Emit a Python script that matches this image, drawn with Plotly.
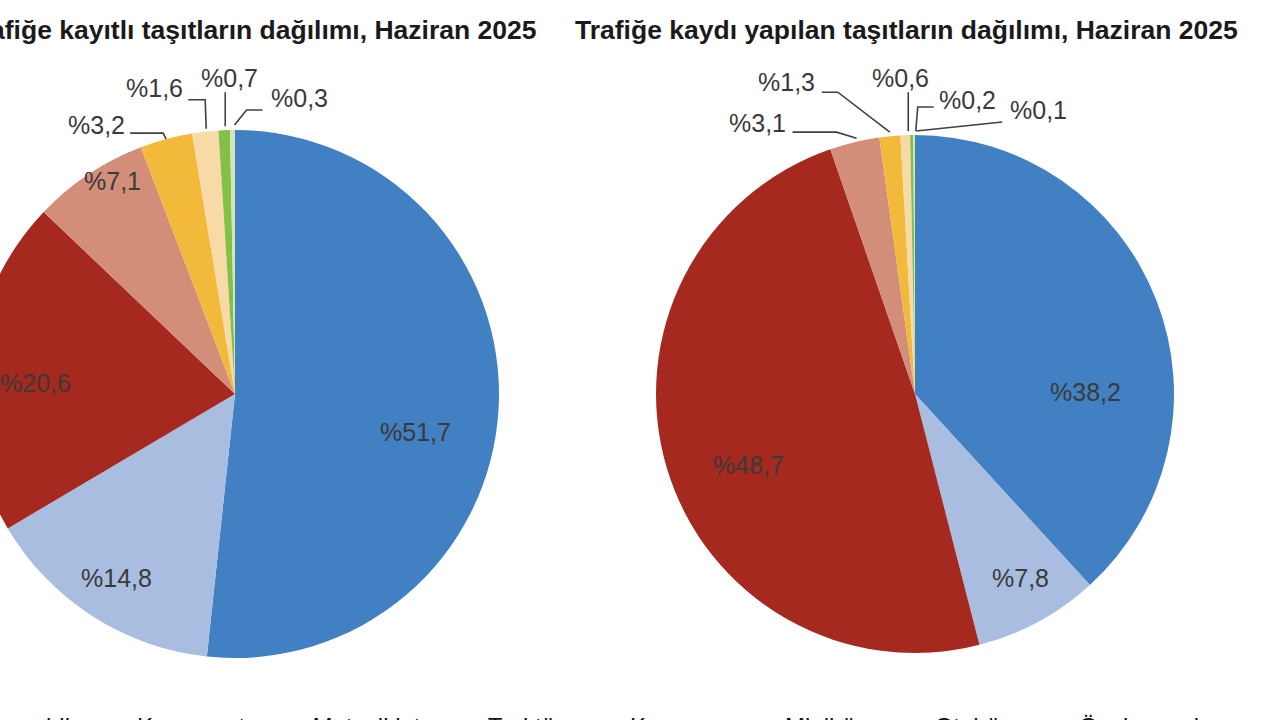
import math
import plotly.graph_objects as go

# ---------------- data ----------------
categories = ["Otomobil", "Kamyonet", "Motosiklet", "Traktör", "Kamyon",
              "Minibüs", "Otobüs", "Özel amaçlı"]
registered_share = [51.7, 14.8, 20.6, 7.1, 3.2, 1.6, 0.7, 0.3]      # Trafiğe kayıtlı
new_registration_share = [38.2, 7.8, 48.7, 3.1, 1.3, 0.6, 0.2, 0.1]  # Trafiğe kaydı yapılan
chart_titles = ["Trafiğe kayıtlı taşıtların dağılımı, Haziran 2025",
                "Trafiğe kaydı yapılan taşıtların dağılımı, Haziran 2025"]

# ---------------- style ----------------
colors = ["#4180C2", "#A8BDE0", "#A5291F", "#D28E79", "#F2B93B",
          "#F8DAA6", "#84BF48", "#D3E6B5"]
FONT = "Liberation Sans, Arial, sans-serif"
LABEL_COLOR = "#3a3a3a"
SHIFT = 100           # page is shifted left so the left pie is cropped like the reference
W, H = 1280 + SHIFT + 40, 780

# geometry (screen px): centre, radius, title centre
pie_styles = [
    dict(cx=235, cy=394, r=264, title_x=250,
         inside={0: (0.70, 8.7), 1: (0.83, -0.1), 2: (0.755, -3.3), 3: (0.93, 3.8)},
         outside={4: ((-70, -14), [(-36, -6), (-3, -6), (0, 0)]),
                  5: ((-51, -44), [(-17, -32), (0, -32), (1, -3)]),
                  6: ((5, -52), [(1, -38), (1, -4)]),
                  7: ((67, -32), [(30, -20), (14, -20), (2, -5)])}),
    dict(cx=915, cy=394, r=259, title_x=906,
         inside={0: (0.66, 20.5), 1: (0.82, -1.3), 2: (0.70, -6.3)},
         outside={3: ((-97, -19), [(-62, -10), (-18, -10), (2, -4)]),
                  4: ((-103, -54), [(-68, -44), (-52, -44), (0, -4)]),
                  5: ((-5, -57), [(3, -43), (3, -4)]),
                  6: ((56, -35), [(22, -28), (6, -28), (4, -4)]),
                  7: ((124, -25), [(88, -13), (2, -4)])}),
]
series = [registered_share, new_registration_share]


def px(x):
    return (x + SHIFT) / W


def py(y):
    return 1 - y / H


def fmt(v):
    return "%" + f"{v:.1f}".replace(".", ",")


fig = go.Figure()
annotations = []
shapes = []

for k, (vals, st) in enumerate(zip(series, pie_styles)):
    cx, cy, r = st["cx"], st["cy"], st["r"]
    fig.add_trace(go.Pie(
        labels=categories, values=vals, sort=False, direction="clockwise",
        rotation=0, textinfo="none", marker=dict(colors=colors, line=dict(width=0)),
        domain=dict(x=[px(cx - r), px(cx + r)], y=[py(cy + r), py(cy - r)]),
        showlegend=(k == 0), hoverinfo="label+percent",
    ))
    total = sum(vals)
    cum = 0.0
    for i, v in enumerate(vals):
        a0 = cum / total * 360
        cum += v
        a1 = cum / total * 360
        mid = (a0 + a1) / 2
        if i in st["inside"]:
            f, nudge = st["inside"][i]
            a = math.radians(mid + nudge)
            x = cx + f * r * math.sin(a)
            y = cy - f * r * math.cos(a)
            annotations.append(dict(x=px(x), y=py(y), xref="paper", yref="paper",
                                    text=fmt(v), showarrow=False, xanchor="center",
                                    yanchor="middle",
                                    font=dict(family=FONT, size=25, color=LABEL_COLOR)))
        elif i in st["outside"]:
            a = math.radians(mid)
            ex = cx + r * math.sin(a)
            ey = cy - r * math.cos(a)
            (lx, ly), path = st["outside"][i]
            annotations.append(dict(x=px(ex + lx), y=py(ey + ly), xref="paper", yref="paper",
                                    text=fmt(v), showarrow=False, xanchor="center",
                                    yanchor="middle",
                                    font=dict(family=FONT, size=25, color=LABEL_COLOR)))
            d = "M " + " L ".join(f"{px(ex + dx):.5f},{py(ey + dy):.5f}" for dx, dy in path)
            shapes.append(dict(type="path", path=d, xref="paper", yref="paper",
                               line=dict(color="#404040", width=1.6)))
    annotations.append(dict(x=px(st["title_x"]), y=py(30), xref="paper", yref="paper",
                            text="<b>" + chart_titles[k] + "</b>", showarrow=False,
                            xanchor="center", yanchor="middle",
                            font=dict(family=FONT, size=26.5, color="#1a1a1a")))

fig.update_layout(
    width=W, height=H, autosize=False,
    margin=dict(l=0, r=0, t=0, b=0, pad=0),
    paper_bgcolor="white", plot_bgcolor="white",
    annotations=annotations, shapes=shapes,
    legend=dict(orientation="h", x=px(-88), xanchor="left", y=py(704), yanchor="top",
                font=dict(family=FONT, size=24, color="#111111"), itemwidth=52,
                bgcolor="rgba(0,0,0,0)", traceorder="normal"),
)

post = ("var d=document.getElementById('{plot_id}');"
        "d.style.position='absolute';d.style.left='-" + str(SHIFT) + "px';d.style.top='0px';"
        "document.body.style.margin='0';document.body.style.overflow='hidden';"
        "document.documentElement.style.overflow='hidden';")
fig.write_html("out.html", post_script=post, config={"displayModeBar": False})
